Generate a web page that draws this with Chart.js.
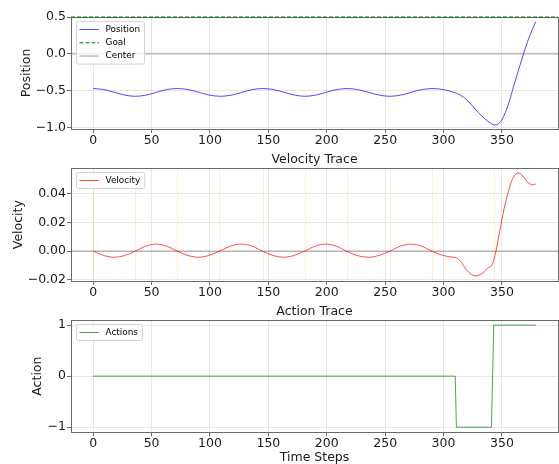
<!DOCTYPE html>
<html>
<head>
<meta charset="utf-8">
<script src="https://cdn.jsdelivr.net/npm/chart.js@4.4.1/dist/chart.umd.min.js"></script>
<style>
  html, body { margin: 0; padding: 0; background: #fff; overflow: hidden; }
  #wrap { position: relative; width: 559px; height: 464px; overflow: hidden; }
  canvas { position: absolute; left: 0; }
</style>
</head>
<body>
<div id="wrap">
  <canvas id="posChart" width="559" height="150" style="top:0"></canvas>
  <canvas id="velChart" width="559" height="152" style="top:150px"></canvas>
  <canvas id="actChart" width="559" height="172" style="top:302px"></canvas>
</div>
<script>
// ---- data ----
const stepTicks = [0, 50, 100, 150, 200, 250, 300, 350];

const posT = [0, 9, 18, 27, 36, 45, 54, 63, 72, 81, 90, 99, 109, 118, 127, 136, 145, 154, 163, 172, 181, 190, 199, 208, 217, 226, 235, 245, 254, 263, 272, 281, 290, 300, 308, 314, 320, 325, 330, 335, 340, 344, 348, 352, 356, 360, 364, 368, 372, 376, 379];
const posY = [-0.470, -0.484, -0.521, -0.560, -0.576, -0.561, -0.523, -0.485, -0.471, -0.484, -0.520, -0.558, -0.576, -0.561, -0.524, -0.486, -0.471, -0.484, -0.520, -0.558, -0.576, -0.561, -0.524, -0.487, -0.471, -0.484, -0.519, -0.560, -0.576, -0.561, -0.524, -0.487, -0.471, -0.485, -0.518, -0.556, -0.625, -0.712, -0.800, -0.878, -0.938, -0.964, -0.935, -0.830, -0.660, -0.440, -0.230, -0.025, 0.170, 0.330, 0.437];
const goalLevel = 0.5;
const centerLevel = 0.0;
const posTicks = [-1.0, -0.5, 0.0, 0.5];
const posTickLabels = ['\u22121.0', '\u22120.5', '0.0', '0.5'];

const velT = [0, 9, 18, 27, 36, 45, 54, 63, 72, 81, 90, 99, 108, 118, 127, 136, 145, 154, 163, 172, 181, 190, 199, 208, 217, 226, 236, 245, 254, 263, 272, 281, 290, 299, 305, 310, 314, 320, 327, 334, 338, 342, 345, 348, 352, 357, 360, 364, 368, 372, 376, 379];
const velY = [0, -0.0030, -0.0042, -0.0030, 0, 0.0035, 0.0049, 0.0035, 0, -0.0030, -0.0042, -0.0030, 0, 0.0036, 0.0049, 0.0035, 0, -0.0030, -0.0042, -0.0030, 0, 0.0035, 0.0049, 0.0035, 0, -0.0030, -0.0042, -0.0029, 0, 0.0035, 0.0049, 0.0035, 0, -0.0028, -0.0039, -0.0044, -0.0065, -0.0133, -0.0172, -0.0150, -0.0116, -0.0088, 0.0005, 0.0135, 0.0300, 0.0455, 0.0515, 0.0543, 0.0520, 0.0480, 0.0460, 0.0467];
const velTurnSteps = [0, 36, 72, 108, 145, 181, 217, 254, 290, 343];
const velTicks = [-0.02, 0.00, 0.02, 0.04];
const velTickLabels = ['\u22120.02', '0.00', '0.02', '0.04'];

const actT = [0, 310, 311, 341, 343, 379];
const actY = [0, 0, -1, -1, 1, 1];
const actTicks = [-1, 0, 1];
const actTickLabels = ['\u22121', '0', '1'];

// ---- styling ----
const FONT = 'DejaVu Sans';
const INK = '#1a1a1a';
const SPINE = '#6b6b6b';
const GRID = 'rgba(176,176,176,0.3)';
const xMin = -19, xMax = 398;

const pts = (xs, ys) => xs.map((x, i) => ({ x, y: ys[i] }));
const hline = y => [{ x: xMin, y }, { x: xMax, y }];

// frame (all four spines) + faint vertical markers, under the lines
const framePlugin = {
  id: 'frame',
  beforeDatasetsDraw(chart, args, opts) {
    const { ctx, chartArea: a, scales: { x } } = chart;
    ctx.save();
    (opts.marks || []).forEach(t => {
      const px = Math.round(x.getPixelForValue(t)) + 0.5;
      ctx.strokeStyle = 'rgba(255,165,0,0.16)';
      ctx.lineWidth = 1;
      ctx.beginPath(); ctx.moveTo(px, a.top); ctx.lineTo(px, a.bottom); ctx.stroke();
    });
    ctx.strokeStyle = SPINE;
    ctx.lineWidth = 1;
    ctx.strokeRect(Math.round(a.left) + 0.5, Math.round(a.top) + 0.5,
      Math.round(a.right - a.left), Math.round(a.bottom - a.top));
    ctx.restore();
  }
};

// matplotlib-like legend box in the upper-left corner of the axes
const boxLegend = {
  id: 'boxLegend',
  afterDatasetsDraw(chart) {
    const items = chart.data.datasets.filter(d => d.label);
    const { ctx, chartArea: a } = chart;
    ctx.save();
    ctx.font = '8.9px "' + FONT + '"';
    const rowH = 13.3, x0 = Math.round(a.left) + 5, y0 = Math.round(a.top) + 4;
    const textW = Math.max(...items.map(d => ctx.measureText(d.label).width));
    const w = 29.5 + textW + 4, h = (items.length - 1) * rowH + 16;
    ctx.beginPath();
    ctx.roundRect(x0 + 0.5, y0 + 0.5, w, h, 2);
    ctx.fillStyle = 'rgba(255,255,255,0.8)';
    ctx.fill();
    ctx.strokeStyle = '#d2d2d2';
    ctx.lineWidth = 1;
    ctx.stroke();
    items.forEach((d, i) => {
      const y = y0 + 8.5 + i * rowH;
      ctx.beginPath();
      ctx.setLineDash(d.borderDash || []);
      ctx.strokeStyle = d.borderColor;
      ctx.lineWidth = d.borderWidth;
      ctx.moveTo(x0 + 3.5, y); ctx.lineTo(x0 + 23, y);
      ctx.stroke();
      ctx.setLineDash([]);
      ctx.fillStyle = '#000';
      ctx.textBaseline = 'middle';
      ctx.fillText(d.label, x0 + 29.5, y);
    });
    ctx.restore();
  }
};

function xAxis(height, title, titlePad) {
  return {
    type: 'linear', min: xMin, max: xMax,
    afterBuildTicks: s => { s.ticks = stepTicks.map(v => ({ value: v })); },
    afterFit: s => { s.height = height; },
    grid: { color: GRID, tickColor: SPINE, tickLength: 4 },
    border: { display: false },
    ticks: { color: INK, font: { family: FONT, size: 12.5 }, padding: 0, maxRotation: 0, autoSkip: false, callback: v => String(v) },
    title: title ? { display: true, text: title, color: INK, font: { family: FONT, size: 12.5 }, padding: { top: 0, bottom: titlePad } } : { display: false }
  };
}

function yAxis(min, max, values, labels, title, titleLeft) {
  return {
    min, max,
    afterBuildTicks: s => { s.ticks = values.map(v => ({ value: v })); },
    afterFit: s => { s.width = 71; },
    grid: { color: GRID, tickColor: SPINE, tickLength: 4 },
    border: { display: false },
    ticks: { color: INK, font: { family: FONT, size: 12.5 }, padding: 1, autoSkip: false, callback: (v, i) => labels[i] },
    title: { display: true, text: title, color: INK, font: { family: FONT, size: 12.5 }, padding: { top: titleLeft, bottom: 0 } }
  };
}

function titleOpts(text, top) {
  return { display: true, text, fullSize: false, color: INK, font: { family: FONT, size: 12.5, weight: 'normal' }, padding: { top, bottom: 0.8 } };
}

const base = { responsive: false, animation: false, events: [] };
const lineStyle = { pointRadius: 0, borderWidth: 1, fill: false };

// Position trace
new Chart(document.getElementById('posChart'), {
  type: 'line',
  data: {
    datasets: [
      { label: 'Position', data: pts(posT, posY), borderColor: 'rgba(0,0,255,0.7)', cubicInterpolationMode: 'monotone', ...lineStyle },
      { label: 'Goal', data: hline(goalLevel), borderColor: '#008000', borderDash: [4, 2], clip: 3, ...lineStyle },
      { label: 'Center', data: hline(centerLevel), borderColor: 'rgba(128,128,128,0.4)', ...lineStyle, borderWidth: 2 }
    ]
  },
  options: {
    ...base,
    layout: { padding: { top: 17, right: 1, left: 0, bottom: 0 } },
    plugins: { legend: { display: false }, tooltip: { enabled: false }, frame: {} },
    scales: { x: xAxis(21), y: yAxis(-1.02, 0.5, posTicks, posTickLabels, 'Position', 19.2) }
  },
  plugins: [framePlugin, boxLegend]
});

// Velocity trace
new Chart(document.getElementById('velChart'), {
  type: 'line',
  data: {
    datasets: [
      { label: 'Velocity', data: pts(velT, velY), borderColor: 'rgba(255,0,0,0.7)', cubicInterpolationMode: 'monotone', ...lineStyle },
      { data: hline(0), borderColor: 'rgba(0,0,0,0.3)', ...lineStyle, borderWidth: 1.3 }
    ]
  },
  options: {
    ...base,
    layout: { padding: { top: 0, right: 1, left: 0, bottom: 0 } },
    plugins: { legend: { display: false }, tooltip: { enabled: false }, title: titleOpts('Velocity Trace', 2.5), frame: { marks: velTurnSteps } },
    scales: { x: xAxis(21), y: yAxis(-0.0207, 0.0575, velTicks, velTickLabels, 'Velocity', 10.8) }
  },
  plugins: [framePlugin, boxLegend]
});

// Action trace
new Chart(document.getElementById('actChart'), {
  type: 'line',
  data: {
    datasets: [
      { label: 'Actions', data: pts(actT, actY), borderColor: 'rgba(0,128,0,0.7)', tension: 0, ...lineStyle }
    ]
  },
  options: {
    ...base,
    layout: { padding: { top: 0, right: 1, left: 0, bottom: 0 } },
    plugins: { legend: { display: false }, tooltip: { enabled: false }, title: titleOpts('Action Trace', 2.2), frame: {} },
    scales: { x: xAxis(41.7, 'Time Steps', 8.5), y: yAxis(-1.1, 1.1, actTicks, actTickLabels, 'Action', 30.3) }
  },
  plugins: [framePlugin, boxLegend]
});
</script>
</body>
</html>
